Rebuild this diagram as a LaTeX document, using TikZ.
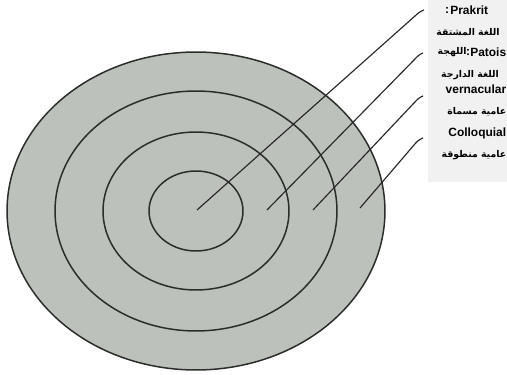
\documentclass[tikz,border=0pt]{standalone}
\usepackage{fontspec}
\setmainfont{Liberation Sans}
\newfontfamily\arabicfont[Script=Arabic]{DejaVu Sans}
\TeXXeTstate=1
\usepackage{xcolor}
\definecolor{ringFill}{HTML}{BCC2BB}
\definecolor{ringLine}{HTML}{2A2D2A}
\definecolor{labelBack}{HTML}{F1F1F1}
\usepackage{tikz}
\usetikzlibrary{positioning}

\begin{document}
\begin{tikzpicture}[
        x=0.02cm, y=-0.02cm,
        ringEdge/.style={
            draw=ringLine,
            line width=0.85pt
        },
        leaderLine/.style={
            draw=black!85,
            line width=0.65pt
        },
        latinLabel/.style={
            font=\bfseries\fontsize{6.8}{8}\selectfont,
            inner sep=0pt
        },
        arabicLabel/.style={
            font=\arabicfont\bfseries\fontsize{5.3}{7}\selectfont,
            inner sep=0pt
        }
    ]
    \useasboundingbox (0,0) rectangle (507,375);

    % label column background
    \fill[labelBack] (428,0) rectangle (507,182);

    % Rings
    \coordinate (center) at (196,211);
    \fill[ringFill] (center) ellipse [x radius=3.78cm, y radius=3.18cm];
    \draw[ringEdge] (center) ellipse [x radius=3.78cm, y radius=3.18cm];
    \draw[ringEdge] (center) ellipse [x radius=2.82cm, y radius=2.40cm];
    \draw[ringEdge] (center) ellipse [x radius=1.86cm, y radius=1.58cm];
    \draw[ringEdge] (center) ellipse [x radius=0.94cm, y radius=0.80cm];

    % Leader points
    \coordinate (s1) at (197,210);
    \coordinate (b1) at (415,16);
    \coordinate (e1) at (424,10);
    \coordinate (s2) at (267,210);
    \coordinate (b2) at (414,60);
    \coordinate (e2) at (423,53);
    \coordinate (s3) at (313,210);
    \coordinate (b3) at (414,103);
    \coordinate (e3) at (423,96);
    \coordinate (s4) at (360,208);
    \coordinate (b4) at (414,145);
    \coordinate (e4) at (423,138);

    % Leaders
    \draw[leaderLine] (s1) -- (b1) to[out=42, in=200] (e1);
    \draw[leaderLine] (s2) -- (b2) to[out=46, in=200] (e2);
    \draw[leaderLine] (s3) -- (b3) to[out=46, in=200] (e3);
    \draw[leaderLine] (s4) -- (b4) to[out=50, in=200] (e4);

    % Labels
    \node[latinLabel, anchor=west] (prakrit) at (450,10) {Prakrit};
    \node[latinLabel, anchor=east] (prakritColon) at (449.5,10) {:};
    \node[arabicLabel] (prakritAr) at (468,32) {\beginR اللغة المشتقة\endR};
    \node[latinLabel, anchor=east] (patois) at (506.5,52) {Patois};
    \node[latinLabel, anchor=east] (patoisColon) at (470.5,52) {:};
    \node[arabicLabel, anchor=east] (patoisAr) at (467,52) {\beginR اللهجة\endR};
    \node[arabicLabel] (vernAr) at (470,75) {\beginR اللغة الدارجة\endR};
    \node[latinLabel, anchor=east] (vern) at (506.5,89) {vernacular};
    \node[arabicLabel, anchor=east] (vernAr2) at (506.5,112) {\beginR عامية مسماة\endR};
    \node[latinLabel, anchor=east] (colloq) at (506.5,133) {Colloquial};
    \node[arabicLabel, anchor=east] (colloqAr) at (506.5,155) {\beginR عامية منطوقة\endR};
\end{tikzpicture}
\end{document}
